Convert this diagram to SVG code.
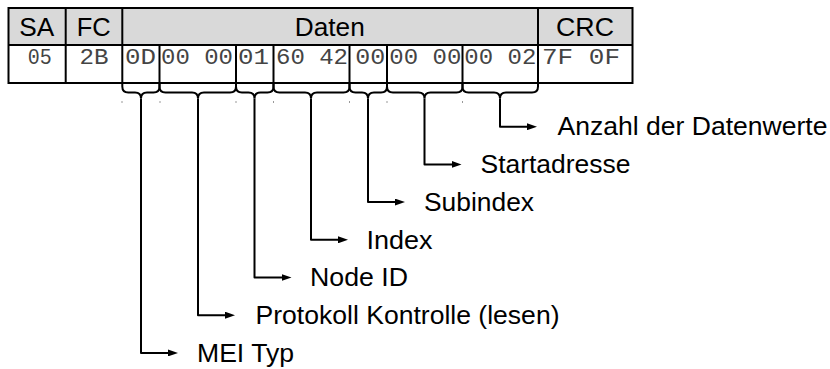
<svg xmlns="http://www.w3.org/2000/svg" width="830" height="369" viewBox="0 0 830 369">
<style>
.hdr{fill:#d9d9d9;stroke:none}
.cell{fill:#ffffff;stroke:none}
.ln{stroke:#000;stroke-width:2;fill:none}
.br{stroke:#000;stroke-width:2;fill:none;stroke-linejoin:round}
.h{font-family:"Liberation Sans",Arial,sans-serif;font-size:25px;fill:#000;text-anchor:middle}
.m{font-family:"Liberation Mono","Courier New",monospace;font-size:22px;fill:#444}
.lbl{font-family:"Liberation Sans",Arial,sans-serif;font-size:25px;fill:#000}
.dot{fill:#999}
</style>
<defs>
<marker id="ah" viewBox="0 0 10 7" refX="4" refY="3.5" markerWidth="10" markerHeight="7" markerUnits="userSpaceOnUse" orient="auto">
<path d="M0,0 L10,3.5 L0,7 z" fill="#000"/>
</marker>
</defs>

<g id="table">
<rect class="hdr" x="8.5" y="8" width="624" height="37"/>
<rect class="cell" x="8.5" y="45" width="624" height="38"/>
<rect class="ln" x="8.5" y="8" width="624" height="75"/>
<line class="ln" x1="8.5" y1="45" x2="632.5" y2="45"/>
<line class="ln" x1="65.7" y1="8" x2="65.7" y2="83"/>
<line class="ln" x1="122.3" y1="8" x2="122.3" y2="83"/>
<line class="ln" x1="538" y1="8" x2="538" y2="83"/>
<line class="ln" x1="159.5" y1="45" x2="159.5" y2="83"/>
<line class="ln" x1="236" y1="45" x2="236" y2="83"/>
<line class="ln" x1="273.5" y1="45" x2="273.5" y2="83"/>
<line class="ln" x1="349.5" y1="45" x2="349.5" y2="83"/>
<line class="ln" x1="387" y1="45" x2="387" y2="83"/>
<line class="ln" x1="462.5" y1="45" x2="462.5" y2="83"/>
<text class="h" x="36.8" y="36" textLength="35" lengthAdjust="spacingAndGlyphs">SA</text>
<text class="h" x="93.7" y="36" textLength="34" lengthAdjust="spacingAndGlyphs">FC</text>
<text class="h" x="329.8" y="36" textLength="70" lengthAdjust="spacingAndGlyphs">Daten</text>
<text class="h" x="585" y="36" textLength="58" lengthAdjust="spacingAndGlyphs">CRC</text>
<text class="m" x="27.8" y="63.5" textLength="24" lengthAdjust="spacingAndGlyphs">05</text>
<text class="m" x="79.5" y="63.5" textLength="29" lengthAdjust="spacingAndGlyphs">2B</text>
<text class="m" x="125" y="63.5" textLength="31" lengthAdjust="spacingAndGlyphs">0D</text>
<text class="m" x="161" y="63.5" textLength="72" lengthAdjust="spacingAndGlyphs">00 00</text>
<text class="m" x="238" y="63.5" textLength="31" lengthAdjust="spacingAndGlyphs">01</text>
<text class="m" x="276" y="63.5" textLength="72" lengthAdjust="spacingAndGlyphs">60 42</text>
<text class="m" x="355.2" y="63.5" textLength="30" lengthAdjust="spacingAndGlyphs">00</text>
<text class="m" x="389.3" y="63.5" textLength="72" lengthAdjust="spacingAndGlyphs">00 00</text>
<text class="m" x="464.3" y="63.5" textLength="72" lengthAdjust="spacingAndGlyphs">00 02</text>
<text class="m" x="542" y="63.5" textLength="78" lengthAdjust="spacingAndGlyphs">7F 0F</text>
</g>

<g id="ticks">
<rect class="dot" x="121.5" y="101" width="1" height="2"/>
<rect class="dot" x="159.5" y="101" width="1" height="2"/>
<rect class="dot" x="235.5" y="101" width="1" height="2"/>
<rect class="dot" x="273" y="101" width="1" height="2"/>
<rect class="dot" x="349" y="101" width="1" height="2"/>
<rect class="dot" x="386.5" y="101" width="1" height="2"/>
<rect class="dot" x="462" y="101" width="1" height="2"/>
</g>

<g id="connectors">
<path class="br" d="M122.3,83 L122.3,86.5 Q122.3,92.5 128.3,92.5 L135,92.5 Q141,92.5 141,98.5 M159.5,83 L159.5,86.5 Q159.5,92.5 153.5,92.5 L147,92.5 Q141,92.5 141,98.5"/>
<path class="br" d="M141,98.5 L141,352.9 L172,352.9" marker-end="url(#ah)"/>
<path class="br" d="M159.5,83 L159.5,86.5 Q159.5,92.5 165.5,92.5 L192,92.5 Q198,92.5 198,98.5 M236,83 L236,86.5 Q236,92.5 230,92.5 L204,92.5 Q198,92.5 198,98.5"/>
<path class="br" d="M198,98.5 L198,315.2 L229,315.2" marker-end="url(#ah)"/>
<path class="br" d="M236,83 L236,86.5 Q236,92.5 242,92.5 L248.5,92.5 Q254.5,92.5 254.5,98.5 M273.5,83 L273.5,86.5 Q273.5,92.5 267.5,92.5 L260.5,92.5 Q254.5,92.5 254.5,98.5"/>
<path class="br" d="M254.5,98.5 L254.5,277.5 L285.5,277.5" marker-end="url(#ah)"/>
<path class="br" d="M273.5,83 L273.5,86.5 Q273.5,92.5 279.5,92.5 L305,92.5 Q311,92.5 311,98.5 M349.5,83 L349.5,86.5 Q349.5,92.5 343.5,92.5 L317,92.5 Q311,92.5 311,98.5"/>
<path class="br" d="M311,98.5 L311,239.8 L342,239.8" marker-end="url(#ah)"/>
<path class="br" d="M349.5,83 L349.5,86.5 Q349.5,92.5 355.5,92.5 L362,92.5 Q368,92.5 368,98.5 M387,83 L387,86.5 Q387,92.5 381,92.5 L374,92.5 Q368,92.5 368,98.5"/>
<path class="br" d="M368,98.5 L368,202.1 L399,202.1" marker-end="url(#ah)"/>
<path class="br" d="M387,83 L387,86.5 Q387,92.5 393,92.5 L418.5,92.5 Q424.5,92.5 424.5,98.5 M462.5,83 L462.5,86.5 Q462.5,92.5 456.5,92.5 L430.5,92.5 Q424.5,92.5 424.5,98.5"/>
<path class="br" d="M424.5,98.5 L424.5,164.4 L455.5,164.4" marker-end="url(#ah)"/>
<path class="br" d="M462.5,83 L462.5,86.5 Q462.5,92.5 468.5,92.5 L494,92.5 Q500,92.5 500,98.5 M538,83 L538,86.5 Q538,92.5 532,92.5 L506,92.5 Q500,92.5 500,98.5"/>
<path class="br" d="M500,98.5 L500,126.7 L531,126.7" marker-end="url(#ah)"/>
</g>

<g id="label-mei"><text class="lbl" x="197" y="361.6" textLength="97" lengthAdjust="spacingAndGlyphs">MEI Typ</text></g>
<g id="label-protokoll"><text class="lbl" x="255.5" y="323.9" textLength="304" lengthAdjust="spacingAndGlyphs">Protokoll Kontrolle (lesen)</text></g>
<g id="label-nodeid"><text class="lbl" x="310" y="286.2" textLength="98" lengthAdjust="spacingAndGlyphs">Node ID</text></g>
<g id="label-index"><text class="lbl" x="366.5" y="248.5" textLength="66" lengthAdjust="spacingAndGlyphs">Index</text></g>
<g id="label-subindex"><text class="lbl" x="424" y="210.8" textLength="110" lengthAdjust="spacingAndGlyphs">Subindex</text></g>
<g id="label-startadresse"><text class="lbl" x="480.5" y="173.1" textLength="150" lengthAdjust="spacingAndGlyphs">Startadresse</text></g>
<g id="label-anzahl"><text class="lbl" x="557.5" y="135.4" textLength="270" lengthAdjust="spacingAndGlyphs">Anzahl der Datenwerte</text></g>
</svg>
